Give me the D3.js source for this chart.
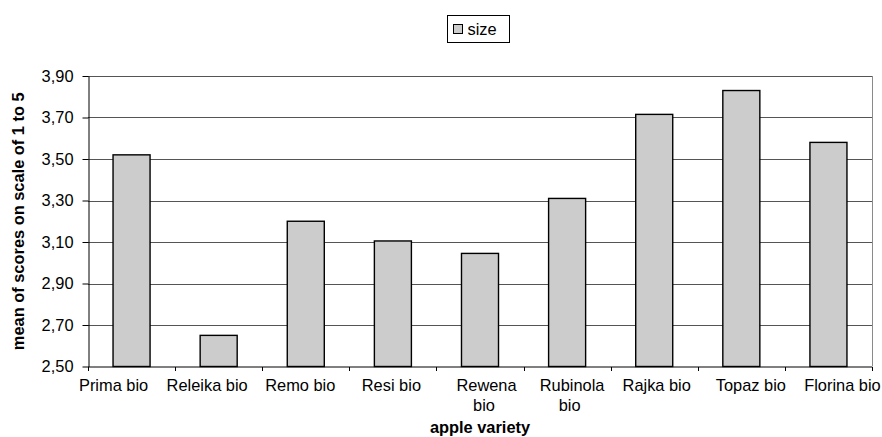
<!DOCTYPE html>
<html>
<head>
<meta charset="utf-8">
<script src="https://cdn.jsdelivr.net/npm/d3@7"></script>
<style>
  html, body { margin: 0; padding: 0; background: #fff; }
  svg { display: block; font-family: "Liberation Sans", Arial, Helvetica, sans-serif; }
</style>
</head>
<body>
<svg id="chart" width="882" height="437"></svg>
<script>
// Apple varieties and their mean size score (scale 1 to 5)
const varieties = ["Prima bio", "Releika bio", "Remo bio", "Resi bio", "Rewena bio",
                   "Rubinola bio", "Rajka bio", "Topaz bio", "Florina bio"];
const sizeScores = [3.52, 2.65, 3.20, 3.105, 3.045, 3.31, 3.715, 3.83, 3.58];
const yTicks = [2.5, 2.7, 2.9, 3.1, 3.3, 3.5, 3.7, 3.9];
const seriesName = "size";
const xTitle = "apple variety";
const yTitle = "mean of scores on scale of 1 to 5";

// Category labels that wrap onto two lines
const labelLines = {
  "Rewena bio": ["Rewena", "bio"],
  "Rubinola bio": ["Rubinola", "bio"]
};

const svg = d3.select("#chart");
const plotL = 88, plotR = 872, plotT = 76, plotB = 366.5;
const fontSize = 16.4;
// Horizontal nudges that spread the wide category labels along the axis
const labelShift = [-18, -11.5, -5.5, -1.5, 6.5, 5, 2.5, 9.5, 14];

const x = d3.scaleBand().domain(varieties).range([plotL, plotR])
  .paddingInner(0.575).paddingOuter(0.2875);
const slots = d3.scaleBand().domain(varieties).range([plotL, plotR]).padding(0);
const y = d3.scaleLinear().domain([2.5, 3.9]).range([plotB, plotT]);
const fmt = v => d3.format(".2f")(v).replace(".", ",");

// Horizontal gridlines
svg.append("g")
  .selectAll("line")
  .data(yTicks.slice(1))
  .join("line")
  .attr("x1", plotL).attr("x2", plotR)
  .attr("y1", d => Math.round(y(d)) + 0.5).attr("y2", d => Math.round(y(d)) + 0.5)
  .attr("stroke", "#555").attr("stroke-width", 1);

// Right edge of plot area
svg.append("line")
  .attr("x1", plotR + 0.5).attr("x2", plotR + 0.5)
  .attr("y1", Math.round(y(3.9))).attr("y2", plotB)
  .attr("stroke", "#8a8a8a");

// Bars
svg.append("g")
  .selectAll("rect")
  .data(varieties)
  .join("rect")
  .attr("x", d => x(d))
  .attr("width", x.bandwidth())
  .attr("y", (d, i) => y(sizeScores[i]))
  .attr("height", (d, i) => plotB - y(sizeScores[i]))
  .attr("fill", "#cccccc")
  .attr("stroke", "#000")
  .attr("stroke-width", 1.4);

// Y axis
const yAxis = svg.append("g")
  .attr("transform", `translate(${plotL + 0.5},0)`)
  .call(d3.axisLeft(y).tickValues(yTicks).tickFormat(fmt).tickSize(6).tickPadding(9).tickSizeOuter(0));
yAxis.select(".domain").attr("stroke", "#000");
yAxis.selectAll(".tick line").attr("stroke", "#000");
yAxis.selectAll(".tick text").attr("font-size", fontSize).attr("fill", "#000")
  .attr("font-family", "Liberation Sans, Arial, sans-serif");

// X axis with ticks at category boundaries
const boundaries = varieties.map(v => slots(v)).concat([plotR]);
const xAxisG = svg.append("g").attr("transform", `translate(0,${plotB + 0.5})`);
xAxisG.append("line").attr("x1", plotL).attr("x2", plotR).attr("stroke", "#000");
xAxisG.selectAll("line.tick")
  .data(boundaries)
  .join("line")
  .attr("class", "tick")
  .attr("x1", d => Math.round(d) + 0.5).attr("x2", d => Math.round(d) + 0.5)
  .attr("y1", 0).attr("y2", 4)
  .attr("stroke", "#000");

const xLabels = xAxisG.selectAll("text.cat")
  .data(varieties)
  .join("text")
  .attr("class", "cat")
  .attr("text-anchor", "middle")
  .attr("font-size", fontSize)
  .attr("fill", "#000")
  .attr("transform", (d, i) => `translate(${slots(d) + slots.bandwidth() / 2 + labelShift[i]},0)`);
xLabels.each(function(d) {
  const lines = labelLines[d] || [d];
  d3.select(this).selectAll("tspan")
    .data(lines)
    .join("tspan")
    .attr("x", (l, i) => i === 0 ? 0 : -2.5)
    .attr("y", (l, i) => 24 + i * 20)
    .text(l => l);
});

// Axis titles
svg.append("text")
  .attr("x", (plotL + plotR) / 2).attr("y", 433)
  .attr("text-anchor", "middle")
  .attr("font-size", fontSize).attr("font-weight", "bold")
  .text(xTitle);

svg.append("text")
  .attr("transform", `translate(24,${(plotT + plotB) / 2}) rotate(-90)`)
  .attr("text-anchor", "middle")
  .attr("font-size", fontSize).attr("font-weight", "bold")
  .text(yTitle);

// Legend
const legend = svg.append("g").attr("transform", "translate(447.5,15.5)");
legend.append("rect").attr("width", 62).attr("height", 27)
  .attr("fill", "#fff").attr("stroke", "#000");
legend.append("rect").attr("x", 6).attr("y", 9).attr("width", 9).attr("height", 9)
  .attr("fill", "#cccccc").attr("stroke", "#000");
legend.append("text").attr("x", 20).attr("y", 19.5)
  .attr("font-size", fontSize).text(seriesName);
</script>
</body>
</html>
